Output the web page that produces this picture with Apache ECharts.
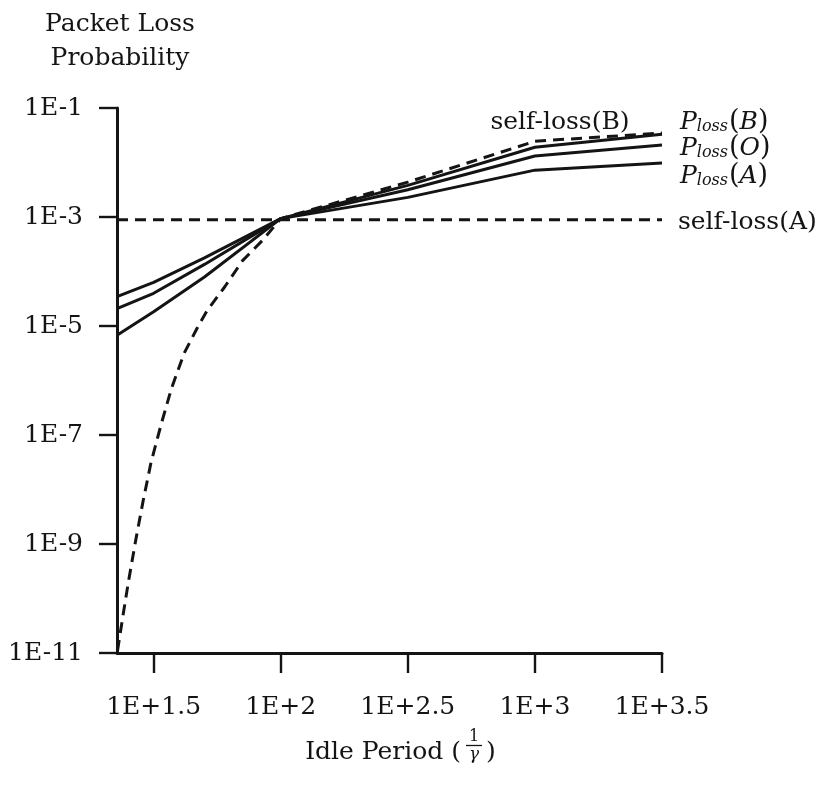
<!DOCTYPE html>
<html>
<head>
<meta charset="utf-8">
<script src="https://cdn.jsdelivr.net/npm/echarts@6/dist/echarts.min.js"></script>
<style>
  html, body { margin: 0; padding: 0; background: #fff; }
  #chart { width: 830px; height: 791px; }
</style>
</head>
<body>
<div id="chart"></div>
<script>
// Idle period and packet loss probability, both as base-10 exponents.
const xTicks = [1.5, 2, 2.5, 3, 3.5];
const yTicks = [-11, -9, -7, -5, -3, -1];

const periodX = [1.356, 1.5, 1.7, 2.0, 2.5, 3.0, 3.5];
const plossA  = [-4.46, -4.20, -3.75, -3.03, -2.64, -2.14, -2.01];
const plossO  = [-4.68, -4.40, -3.87, -3.03, -2.50, -1.88, -1.68];
const plossB  = [-5.17, -4.74, -4.10, -3.03, -2.42, -1.72, -1.48];

const selfLossAX = [1.356, 3.5];
const selfLossA  = [-3.05, -3.05];

const selfLossBX = [1.358, 1.38, 1.40, 1.43, 1.46, 1.49, 1.53, 1.57, 1.62, 1.67, 1.71, 1.78, 1.85, 1.93, 2.0, 2.5, 3.0, 3.5];
const selfLossB  = [-10.96, -10.30, -9.72, -8.92, -8.18, -7.50, -6.80, -6.15, -5.50, -5.05, -4.72, -4.28, -3.80, -3.42, -3.03, -2.36, -1.61, -1.46];

const INK = '#141414';
const FONT = '"DejaVu Serif", serif';
const DASH = [11, 7];

const zip = (xs, ys) => xs.map((x, i) => [x, ys[i]]);

function curve(name, xs, ys, dashed) {
  return {
    name: name,
    type: 'line',
    data: zip(xs, ys),
    symbol: 'none',
    silent: true,
    lineStyle: { color: INK, width: 3, type: dashed ? DASH : 'solid', cap: 'butt', join: 'round' },
    z: dashed ? 3 : 4
  };
}

function label(text, x, y, align, extra) {
  return {
    type: 'text',
    x: x, y: y,
    silent: true,
    style: Object.assign({
      text: text,
      fill: INK,
      fontFamily: FONT,
      fontSize: 25,
      align: align, textAlign: align,
      verticalAlign: 'middle', textVerticalAlign: 'middle'
    }, extra || {})
  };
}

const plossRich = {
  p: { fontFamily: FONT, fontSize: 25, fontStyle: 'italic', fill: INK, lineHeight: 34, verticalAlign: 'middle' },
  s: { fontFamily: FONT, fontSize: 16, fontStyle: 'italic', fill: INK, lineHeight: 34, verticalAlign: 'bottom', padding: [0, 1, 4, 0] },
  r: { fontFamily: FONT, fontSize: 27, fill: INK, lineHeight: 34, verticalAlign: 'middle' },
  i: { fontFamily: FONT, fontSize: 25, fontStyle: 'italic', fill: INK, lineHeight: 34, verticalAlign: 'middle' }
};

function plossLabel(tag, y) {
  return label('{p|P}{s|loss}{r|(}{i|' + tag + '}{r|)}', 680, y, 'left', { rich: plossRich });
}

const chart = echarts.init(document.getElementById('chart'), null, { renderer: 'canvas' });

chart.setOption({
  backgroundColor: '#ffffff',
  animation: false,
  grid: { left: 117, right: 168, top: 108, bottom: 138, containLabel: false },
  xAxis: {
    type: 'value',
    min: 1.356,
    max: 3.5,
    axisLine: { show: true, onZero: false, lineStyle: { color: INK, width: 3 } },
    axisTick: { show: true, length: 20, customValues: xTicks, lineStyle: { color: INK, width: 2.4 } },
    axisLabel: {
      customValues: xTicks,
      formatter: v => '1E+' + v,
      margin: 42,
      color: INK,
      fontFamily: FONT,
      fontSize: 25
    },
    splitLine: { show: false }
  },
  yAxis: {
    type: 'value',
    min: -11,
    max: -1,
    axisLine: { show: true, onZero: false, lineStyle: { color: INK, width: 3 } },
    axisTick: { show: true, length: 18, customValues: yTicks, lineStyle: { color: INK, width: 2.4 } },
    axisLabel: {
      customValues: yTicks,
      formatter: v => '1E' + v,
      margin: 34,
      color: INK,
      fontFamily: FONT,
      fontSize: 25
    },
    splitLine: { show: false }
  },
  series: [
    curve('self-loss(A)', selfLossAX, selfLossA, true),
    curve('self-loss(B)', selfLossBX, selfLossB, true),
    curve('Ploss(A)', periodX, plossA, false),
    curve('Ploss(O)', periodX, plossO, false),
    curve('Ploss(B)', periodX, plossB, false)
  ],
  graphic: [
    label('Packet Loss', 120, 24, 'center'),
    label('Probability', 120, 58, 'center'),
    label('self-loss(B)', 560, 122, 'center'),
    plossLabel('B', 122),
    plossLabel('O', 148),
    plossLabel('A', 176),
    label('self-loss(A)', 678, 222, 'left'),
    // axis name with a stacked 1/γ fraction
    label('Idle Period (', 461, 752, 'right'),
    label('1', 474, 737, 'center', { fontSize: 16 }),
    {
      type: 'line',
      silent: true,
      shape: { x1: 466, y1: 745.5, x2: 482, y2: 745.5 },
      style: { stroke: INK, lineWidth: 1.3 }
    },
    label('γ', 474, 755, 'center', { fontSize: 17, fontStyle: 'italic' }),
    label(')', 486, 752, 'left')
  ]
});
</script>
</body>
</html>
